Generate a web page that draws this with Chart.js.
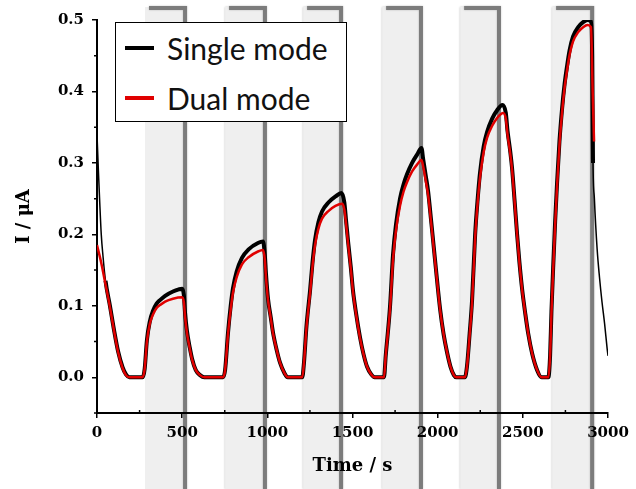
<!DOCTYPE html>
<html>
<head>
<meta charset="utf-8">
<script src="https://cdn.jsdelivr.net/npm/chart.js@4.4.0/dist/chart.umd.min.js"></script>
<style>
  html, body { margin: 0; padding: 0; background: #fff; }
  #wrap { position: relative; width: 636px; height: 489px; }
  .legend {
    position: absolute; left: 115px; top: 22px; width: 232px; height: 100px;
    border: 1.5px solid #000; background: #fff; box-sizing: border-box;
    font-family: Lato, "Open Sans", sans-serif; font-size: 30px; color: #111;
  }
  .row { position: absolute; left: 0; width: 100%; height: 40px; line-height: 40px; }
  .row .swatch { position: absolute; left: 9px; top: 18px; width: 29px; height: 4px; }
  .row span { position: absolute; left: 51px; white-space: nowrap; }
</style>
</head>
<body>
<div id="wrap">
  <canvas id="chart" width="636" height="489"></canvas>
  <div class="legend">
    <div class="row" style="top:5px"><div class="swatch" style="background:#000"></div><span>Single mode</span></div>
    <div class="row" style="top:55px"><div class="swatch" style="background:#e00000"></div><span>Dual mode</span></div>
  </div>
</div>
<script>
"use strict";

// light on / off times (s)
const lightOn = [282, 752, 1210, 1674, 2132, 2672];
const lightOff = [517, 986, 1433, 1902, 2360, 2907];

// [time s, current uA]
const singleMode = [
  [0, 0.34], [8, 0.29], [16, 0.245], [25, 0.2], [35, 0.17], [50, 0.135], [76, 0.1], [100, 0.066], [124, 0.036], [150, 0.014], [170, 0.004], [190, 0], [268, 0],
  [280, 0.012], [293, 0.052], [310, 0.078], [329, 0.093], [350, 0.103], [370, 0.108], [400, 0.114], [446, 0.12], [480, 0.123], [500, 0.124], [510, 0.115], [517, 0.09], [528, 0.065], [545, 0.041], [558, 0.026], [580, 0.01], [605, 0.003], [630, 0], [740, 0],
  [752, 0.01], [769, 0.062], [785, 0.1], [798, 0.124], [820, 0.148], [851, 0.167], [890, 0.179], [945, 0.188], [975, 0.19], [985, 0.172], [992, 0.145], [1004, 0.11], [1020, 0.084], [1033, 0.063], [1055, 0.038], [1075, 0.02], [1100, 0.006], [1120, 0], [1205, 0],
  [1215, 0.02], [1230, 0.072], [1251, 0.122], [1265, 0.16], [1280, 0.192], [1300, 0.217], [1321, 0.232], [1360, 0.245], [1400, 0.253], [1435, 0.258], [1452, 0.245], [1462, 0.22], [1474, 0.19], [1490, 0.154], [1503, 0.121], [1520, 0.091], [1544, 0.056], [1565, 0.032], [1585, 0.015], [1610, 0.004], [1630, 0], [1685, 0],
  [1695, 0.03], [1720, 0.098], [1738, 0.172], [1755, 0.213], [1779, 0.25], [1800, 0.27], [1820, 0.284], [1850, 0.3], [1880, 0.312], [1905, 0.321], [1915, 0.305], [1930, 0.282], [1944, 0.26], [1960, 0.223], [1973, 0.192], [1990, 0.151], [2014, 0.096], [2035, 0.06], [2055, 0.035], [2075, 0.015], [2095, 0.003], [2110, 0], [2160, 0],
  [2172, 0.015], [2188, 0.062], [2202, 0.108], [2220, 0.2], [2235, 0.25], [2249, 0.287], [2270, 0.323], [2290, 0.343], [2320, 0.362], [2350, 0.374], [2380, 0.381], [2400, 0.37], [2410, 0.345], [2425, 0.318], [2437, 0.292], [2452, 0.246], [2466, 0.201], [2480, 0.161], [2496, 0.123], [2515, 0.088], [2531, 0.062], [2555, 0.033], [2584, 0.01], [2610, 0], [2650, 0],
  [2660, 0.03], [2668, 0.092], [2678, 0.153], [2690, 0.22], [2701, 0.272], [2715, 0.33], [2730, 0.375], [2745, 0.41], [2760, 0.436], [2775, 0.458], [2795, 0.477], [2825, 0.49], [2854, 0.497], [2880, 0.5], [2900, 0.498], [2907, 0.45], [2912, 0.3], [2920, 0.25], [2936, 0.18], [2950, 0.14], [2965, 0.105], [2980, 0.075], [2995, 0.04], [3000, 0.03]
];

const dualMode = [
  [0, 0.185], [25, 0.16], [50, 0.13], [76, 0.098], [100, 0.065], [124, 0.035], [150, 0.013], [170, 0.003], [190, 0], [268, 0],
  [280, 0.012], [293, 0.05], [310, 0.075], [329, 0.088], [350, 0.097], [370, 0.101], [400, 0.106], [446, 0.11], [500, 0.112], [510, 0.105], [517, 0.085], [528, 0.062], [545, 0.04], [558, 0.025], [580, 0.01], [605, 0.003], [630, 0], [740, 0],
  [752, 0.01], [769, 0.06], [785, 0.095], [798, 0.118], [820, 0.14], [851, 0.158], [890, 0.168], [945, 0.176], [975, 0.178], [985, 0.165], [992, 0.14], [1004, 0.108], [1020, 0.083], [1033, 0.062], [1055, 0.038], [1075, 0.02], [1100, 0.006], [1120, 0], [1205, 0],
  [1215, 0.02], [1230, 0.07], [1251, 0.118], [1265, 0.155], [1280, 0.185], [1300, 0.208], [1321, 0.222], [1360, 0.233], [1400, 0.24], [1440, 0.243], [1452, 0.235], [1462, 0.215], [1474, 0.187], [1490, 0.152], [1503, 0.12], [1520, 0.09], [1544, 0.055], [1565, 0.032], [1585, 0.015], [1610, 0.004], [1630, 0], [1685, 0],
  [1695, 0.03], [1720, 0.095], [1738, 0.165], [1755, 0.205], [1779, 0.24], [1800, 0.26], [1820, 0.273], [1850, 0.288], [1880, 0.298], [1905, 0.304], [1915, 0.295], [1930, 0.275], [1944, 0.255], [1960, 0.22], [1973, 0.19], [1990, 0.15], [2014, 0.095], [2035, 0.06], [2055, 0.035], [2075, 0.015], [2095, 0.003], [2110, 0], [2160, 0],
  [2172, 0.015], [2188, 0.06], [2202, 0.105], [2220, 0.195], [2235, 0.245], [2249, 0.28], [2270, 0.315], [2290, 0.335], [2320, 0.352], [2350, 0.363], [2384, 0.37], [2400, 0.362], [2410, 0.34], [2425, 0.315], [2437, 0.29], [2452, 0.245], [2466, 0.2], [2480, 0.16], [2496, 0.122], [2515, 0.088], [2531, 0.062], [2555, 0.033], [2584, 0.01], [2610, 0], [2650, 0],
  [2660, 0.03], [2668, 0.09], [2678, 0.15], [2690, 0.215], [2701, 0.268], [2715, 0.325], [2730, 0.37], [2745, 0.405], [2760, 0.43], [2775, 0.452], [2795, 0.47], [2825, 0.483], [2854, 0.49], [2880, 0.493], [2900, 0.49], [2910, 0.4], [2918, 0.33]
];

const tickFont = { family: "'DejaVu Serif', serif", size: 15, weight: "bold" };
const titleFont = { family: "'DejaVu Serif', serif", size: 18, weight: "bold" };

// shaded light periods, drawn over the whole canvas height
const bandsPlugin = {
  id: "bands",
  beforeDraw(chart) {
    const { ctx, scales: { x } } = chart;
    ctx.save();
    lightOn.forEach((t0, i) => {
      const x0 = x.getPixelForValue(t0);
      const x1 = x.getPixelForValue(lightOff[i]);
      ctx.fillStyle = "#efefef";
      ctx.fillRect(x0, 7, x1 - x0, chart.height - 7);
      ctx.strokeStyle = "#7c7c7c";
      ctx.lineWidth = 4;
      ctx.shadowColor = "rgba(0,0,0,0.25)";
      ctx.shadowBlur = 2;
      ctx.beginPath();
      ctx.moveTo(x0 + 4, 8);
      ctx.lineTo(x1, 8);
      ctx.lineTo(x1, chart.height);
      ctx.stroke();
    });
    ctx.restore();
  }
};

// small minor ticks between the labelled ones
const minorTicks = {
  id: "minorTicks",
  afterDraw(chart) {
    const { ctx, scales: { x, y } } = chart;
    ctx.save();
    ctx.strokeStyle = "#000";
    ctx.lineWidth = 1.5;
    ctx.beginPath();
    for (let t = 250; t < 3000; t += 500) {
      const px = x.getPixelForValue(t);
      ctx.moveTo(px, y.bottom);
      ctx.lineTo(px, y.bottom - 3);
    }
    for (let v = -0.05; v < 0.5; v += 0.1) {
      const py = y.getPixelForValue(v);
      ctx.moveTo(x.left, py);
      ctx.lineTo(x.left - 3, py);
    }
    ctx.stroke();
    ctx.restore();
  }
};

const toXY = (arr) => arr.map((p) => ({ x: p[0], y: p[1] }));

new Chart(document.getElementById("chart"), {
  type: "line",
  data: {
    datasets: [
      {
        label: "Dual mode",
        data: toXY(dualMode),
        borderColor: "#e00000",
        borderWidth: 2.5,
        pointRadius: 0,
        cubicInterpolationMode: "monotone",
      },
      {
        label: "Single mode",
        data: toXY(singleMode),
        borderColor: "#000",
        borderWidth: 4,
        pointRadius: 0,
        cubicInterpolationMode: "monotone",
        segment: {
          borderWidth: (c) => (c.p0.parsed.x >= 2910 || c.p0.parsed.x < 40 ? 1.5 : 4),
        },
      },
    ],
  },
  options: {
    responsive: false,
    animation: false,
    layout: { padding: { left: 10, right: 28, top: 20, bottom: 8 } },
    plugins: {
      legend: { display: false },
      tooltip: { enabled: false },
    },
    scales: {
      x: {
        type: "linear",
        min: 0,
        max: 3000,
        ticks: { stepSize: 500, color: "#000", font: tickFont, padding: 6, maxRotation: 0, callback: (v) => String(v) },
        grid: { drawOnChartArea: false, tickLength: 5, color: "#000", lineWidth: 1.5 },
        border: { color: "#000", width: 2 },
        title: { display: true, text: "Time / s", color: "#000", font: titleFont },
        afterFit(s) { s.height = 68; },
      },
      y: {
        min: -0.05,
        max: 0.5,
        ticks: { stepSize: 0.1, includeBounds: false, color: "#000", font: tickFont, padding: 8, callback: (v) => v.toFixed(1) },
        grid: { drawOnChartArea: false, tickLength: 5, color: "#000", lineWidth: 1.5 },
        border: { color: "#000", width: 2 },
        title: { display: true, text: "I / μA", color: "#000", font: titleFont },
        afterFit(s) { s.width = 87; },
      },
    },
  },
  plugins: [bandsPlugin, minorTicks],
});
</script>
</body>
</html>
